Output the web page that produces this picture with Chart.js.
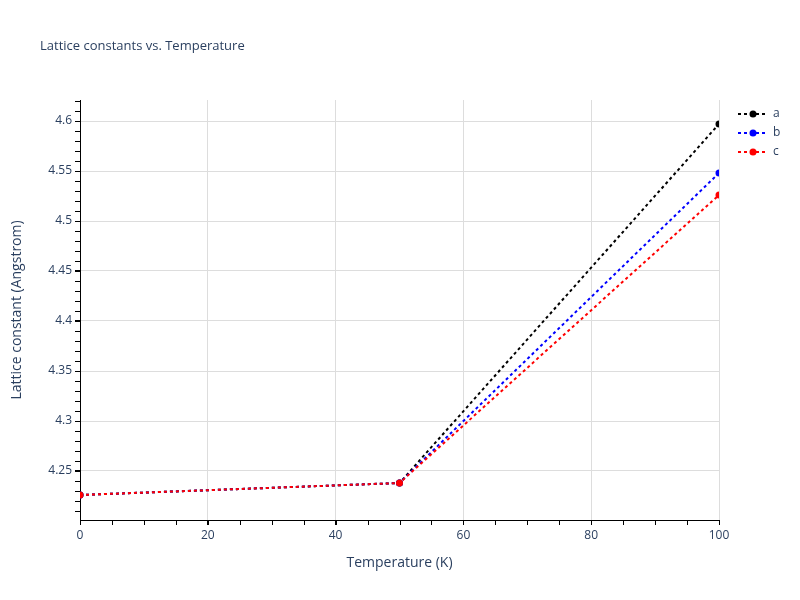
<!DOCTYPE html>
<html>
<head>
<meta charset="utf-8">
<script src="https://cdn.jsdelivr.net/npm/chart.js@4/dist/chart.umd.min.js"></script>
<style>
html,body{margin:0;padding:0;background:#fff;}
#wrap{width:800px;height:600px;}
</style>
</head>
<body>
<div id="wrap"><canvas id="c" width="800" height="600"></canvas></div>
<script>
const temperatures = [0, 50, 100];
const seriesA = [4.226, 4.238, 4.597];
const seriesB = [4.226, 4.238, 4.548];
const seriesC = [4.226, 4.238, 4.526];
const seriesNames = ['a', 'b', 'c'];
const seriesColors = ['#000000', '#0000ff', '#ff0000'];
const chartTitle = 'Lattice constants vs. Temperature';
const xTitle = 'Temperature (K)';
const yTitle = 'Lattice constant (Angstrom)';

const FONT = '"Open Sans", Verdana, Arial, sans-serif';
const TXT = '#2a3f5f';
const GRID = '#dddddd';

function pts(ys){ return temperatures.map((x,i)=>({x:x, y:ys[i]})); }
const allSeries = [seriesA, seriesB, seriesC];
const datasets = allSeries.map((s,i)=>({
  label: seriesNames[i],
  data: pts(s),
  borderColor: seriesColors[i],
  backgroundColor: seriesColors[i],
  borderWidth: 2,
  borderDash: [3,3],
  pointRadius: 3.5,
  pointHoverRadius: 3.5,
  pointBorderWidth: 0,
  tension: 0,
  clip: 0,
  order: 3 - i
}));

const extras = {
  id: 'extras',
  afterDraw(chart){
    const ctx = chart.ctx;
    const xs = chart.scales.x, ys = chart.scales.y;
    const ca = chart.chartArea;
    ctx.save();
    // minor ticks
    ctx.strokeStyle = '#000'; ctx.lineWidth = 1;
    ctx.beginPath();
    for (let v = 0; v <= 100; v += 5){
      const px = Math.round(xs.getPixelForValue(v)) + 0.5;
      ctx.moveTo(px, ca.bottom); ctx.lineTo(px, ca.bottom + 5);
    }
    for (let k = 421; k <= 462; k++){
      const v = k/100;
      const py = Math.round(ys.getPixelForValue(v)) + 0.5;
      if (py < ca.top || py > ca.bottom) continue;
      ctx.moveTo(ca.left, py); ctx.lineTo(ca.left - 5, py);
    }
    ctx.stroke();
    // title
    ctx.fillStyle = TXT;
    ctx.font = '13px ' + FONT;
    ctx.textAlign = 'left'; ctx.textBaseline = 'middle';
    ctx.fillText(chartTitle, 40, 46);
    // axis titles
    ctx.font = '14px ' + FONT;
    ctx.textAlign = 'center';
    ctx.fillText(xTitle, (ca.left + ca.right)/2, 563);
    ctx.save();
    ctx.translate(17, (ca.top + ca.bottom)/2);
    ctx.rotate(-Math.PI/2);
    ctx.fillText(yTitle, 0, 0);
    ctx.restore();
    // legend
    chart.data.datasets.forEach((d, i) => {
      const y = 114 + i*19;
      ctx.strokeStyle = d.borderColor;
      ctx.lineWidth = 2;
      ctx.setLineDash([3,3]);
      ctx.beginPath(); ctx.moveTo(738, y); ctx.lineTo(768, y); ctx.stroke();
      ctx.setLineDash([]);
      ctx.fillStyle = d.borderColor;
      ctx.beginPath(); ctx.arc(753, y, 3.5, 0, Math.PI*2); ctx.fill();
      ctx.fillStyle = TXT;
      ctx.font = '12px ' + FONT;
      ctx.textAlign = 'left'; ctx.textBaseline = 'middle';
      ctx.fillText(d.label, 773, y);
    });
    ctx.restore();
  }
};

new Chart(document.getElementById('c'), {
  type: 'line',
  data: { datasets },
  options: {
    responsive: false,
    animation: false,
    devicePixelRatio: 1,
    layout: { padding: { top: 100, right: 81, left: 0, bottom: 0 } },
    plugins: { legend: { display: false }, tooltip: { enabled: false }, title: { display: false } },
    scales: {
      x: {
        type: 'linear', min: 0, max: 100,
        ticks: { stepSize: 20, color: TXT, font: { family: FONT, size: 12 }, padding: 3, maxRotation: 0 },
        grid: { color: GRID, lineWidth: 1, tickColor: '#000', tickLength: 5 },
        border: { display: true, color: '#000', width: 1 },
        afterFit(s){ s.height = 80; }
      },
      y: {
        type: 'linear', min: 4.201, max: 4.621,
        ticks: {
          stepSize: 0.05, includeBounds: false, color: TXT, font: { family: FONT, size: 12 }, padding: 3,
          callback: v => String(Number(v.toFixed(2)))
        },
        afterBuildTicks(s){
          s.ticks = s.ticks.filter(t => Math.abs(t.value*20 - Math.round(t.value*20)) < 1e-6);
        },
        grid: { color: GRID, lineWidth: 1, tickColor: '#000', tickLength: 5 },
        border: { display: true, color: '#000', width: 1 },
        afterFit(s){ s.width = 80; }
      }
    }
  },
  plugins: [extras]
});
</script>
</body>
</html>
